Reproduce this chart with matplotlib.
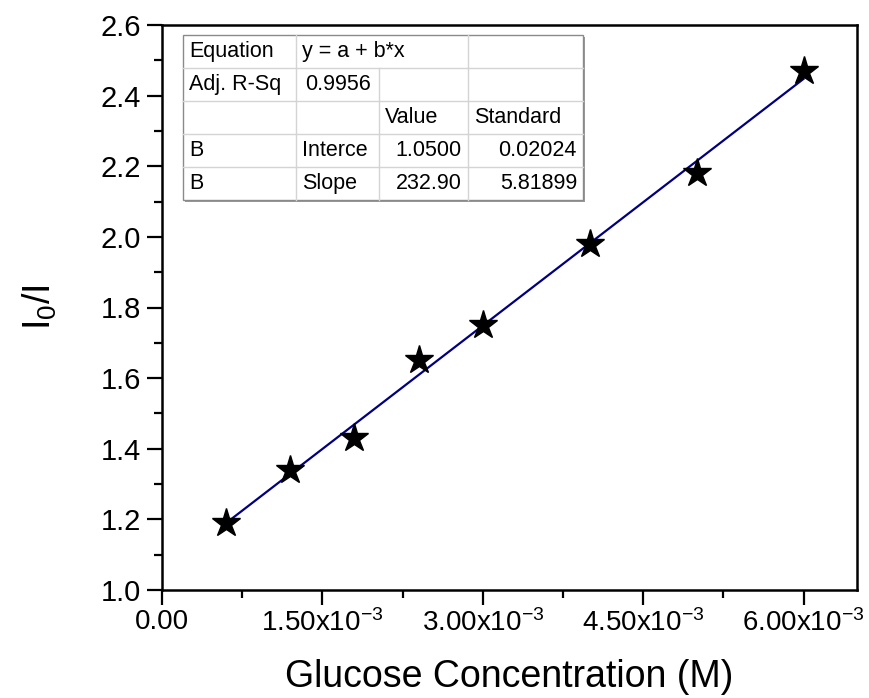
import numpy as np
import matplotlib.pyplot as plt
from matplotlib.ticker import FixedLocator, MultipleLocator, FuncFormatter

plt.rcParams['font.family'] = ['Liberation Sans', 'DejaVu Sans']
plt.rcParams['mathtext.fontset'] = 'custom'
plt.rcParams['mathtext.rm'] = 'Liberation Sans'
plt.rcParams['mathtext.it'] = 'Liberation Sans'

# data
conc = [0.6e-3, 1.2e-3, 1.8e-3, 2.4e-3, 3.0e-3, 4.0e-3, 5.0e-3, 6.0e-3]
ratio = [1.19, 1.34, 1.43, 1.65, 1.75, 1.98, 2.18, 2.47]
intercept = 1.0500
slope = 232.90

table_rows = [
    ["Equation", "y = a + b*x", "", ""],
    ["Adj. R-Sq", "0.9956", "", ""],
    ["", "", "Value", "Standard"],
    ["B", "Interce", "1.0500", "0.02024"],
    ["B", "Slope", "232.90", "5.81899"],
]

W, H = 870, 698
fig = plt.figure(figsize=(W / 100, H / 100), dpi=100)
ax = fig.add_axes([162 / W, 1 - 590 / H, (857 - 162) / W, (590 - 25) / H])

xfit = np.array([conc[0], conc[-1]])
ax.plot(xfit, intercept + slope * xfit, color='#000080', lw=1.6, zorder=2)
ax.plot(conc, ratio, ls='none', marker='*', ms=21, color='black', zorder=3)

ax.set_xlim(0, 6.5e-3)
ax.set_ylim(1.0, 2.6)


def xfmt(v, pos):
    if abs(v) < 1e-12:
        return "0.00"
    return r"%.2fx10$^{\mathregular{-3}}$" % (v * 1e3)


ax.xaxis.set_major_locator(FixedLocator([0, 1.5e-3, 3.0e-3, 4.5e-3, 6.0e-3]))
ax.xaxis.set_minor_locator(MultipleLocator(0.75e-3))
ax.xaxis.set_major_formatter(FuncFormatter(xfmt))
ax.yaxis.set_major_locator(MultipleLocator(0.2))
ax.yaxis.set_minor_locator(MultipleLocator(0.1))
ax.yaxis.set_major_formatter(FuncFormatter(lambda v, p: "%.1f" % v))

ax.tick_params(which='both', direction='out', top=False, right=False, width=1.6)
ax.tick_params(which='major', length=11, pad=4)
ax.tick_params(which='minor', length=6)
ax.tick_params(axis='y', labelsize=21)
ax.tick_params(axis='x', labelsize=20, pad=3)
for s in ax.spines.values():
    s.set_linewidth(1.8)

ax.set_xlabel("Glucose Concentration (M)", fontsize=27, labelpad=16)
ax.set_ylabel(r"I$_\mathregular{0}$/I", fontsize=27, labelpad=30)

# fit-results table drawn in figure pixels
col_x = [183, 296, 379, 468, 583]
row_y = [35, 68, 101, 134, 167, 200]
tf = fig.transFigure
def px(x, y):
    return x / W, 1 - y / H

shadow = plt.Rectangle(px(185, 202), (583 - 183) / W, (200 - 35) / H,
                       transform=tf, facecolor='#9a9a9a', edgecolor='none', zorder=4)
fig.add_artist(shadow)
box = plt.Rectangle(px(183, 200), (583 - 183) / W, (200 - 35) / H,
                    transform=tf, facecolor='white', edgecolor='#8a8a8a', lw=1.0, zorder=5)
fig.add_artist(box)

grid = '#d4d4d4'
for y in row_y[1:-1]:
    fig.add_artist(plt.Line2D([col_x[0] / W, col_x[-1] / W], [1 - y / H] * 2,
                              transform=tf, color=grid, lw=1.0, zorder=6))
for i, x in enumerate(col_x[1:-1], start=1):
    for r in range(5):
        if r == 0 and i == 2:
            continue  # equation text spans two cells
        fig.add_artist(plt.Line2D([x / W] * 2, [1 - row_y[r] / H, 1 - row_y[r + 1] / H],
                                  transform=tf, color=grid, lw=1.0, zorder=6))

for r, row in enumerate(table_rows):
    yc = (row_y[r] + row_y[r + 1]) / 2
    for c, txt in enumerate(row):
        if not txt:
            continue
        numeric = txt[0].isdigit()
        if numeric and r != 1:
            xpos, ha = col_x[c + 1] - 6, 'right'
        elif r == 1 and c == 1:
            xpos, ha = col_x[c] + 9, 'left'
        else:
            xpos, ha = col_x[c] + 6, 'left'
        fig.text(xpos / W, 1 - yc / H, txt, fontsize=15.5, ha=ha, va='center',
                 zorder=7)

fig.savefig("out.png", dpi=100)
